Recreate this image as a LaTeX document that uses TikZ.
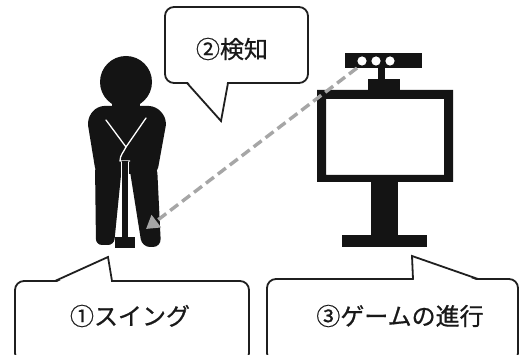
\documentclass[tikz,border=0pt]{standalone}
\usepackage{fontspec}
\newfontfamily\jpfont{Noto Sans CJK JP}[FakeBold=0.7]
\usetikzlibrary{arrows.meta}

\begin{document}
\begin{tikzpicture}[x=1pt,y=-1pt,
  bubble/.style={draw=black!88, line width=1.8pt, fill=white, rounded corners=9pt},
  tailline/.style={draw=black!88, line width=1.8pt, line join=miter},
  tagtext/.style={font=\jpfont\fontsize{24}{28}\selectfont, inner sep=0pt, text=black!90},
  ink/.style={fill=black!92},
  beam/.style={draw=black!35, line width=3.4pt, dash pattern=on 10pt off 5pt,
    -{Triangle[length=13pt,width=15pt,fill=black!35]}}
]
\useasboundingbox (0,0) rectangle (520,355);
\fill[white] (0,0) rectangle (520,355);

% ---- speech bubble: detection ----
\draw[bubble] (165,7) rectangle (308,83);
\fill[white] (188,82) -- (221,121) -- (227,82) -- cycle;
\draw[tailline] (187,83) -- (221,121) -- (228,83);
\node[tagtext] (detect) at (232,49) {②検知};

% ---- bubble: swing ----
\draw[bubble] (15,281) rectangle (249,362);
\fill[white] (57,282) -- (108,257) -- (111,282) -- cycle;
\draw[tailline] (55,281) -- (108,257) -- (112,281);
\node[tagtext] (swing) at (130,316) {①スイング};

% ---- bubble: game progress ----
\draw[bubble] (267,279) rectangle (518,362);
\fill[white] (414,280) -- (412,256) -- (476,280) -- cycle;
\draw[tailline] (413,279) -- (412,256) -- (478,279);
\node[tagtext] (game) at (400,316) {③ゲームの進行};

% ---- player with club ----
\fill[ink] (126,82) ellipse [x radius=26pt, y radius=26pt];
\fill[ink] (112,98) rectangle (140,112);
\fill[ink, rounded corners=7pt] (87,119) -- (97,106) -- (156,106) -- (167,119)
  -- (157,174) -- (96,174) -- cycle;
\fill[ink, rounded corners=6pt] (95,165) -- (122,165) -- (114,245) -- (96,245) -- cycle;
\fill[ink, rounded corners=8pt] (129,165) -- (157,165) -- (161,247) -- (142,247) -- cycle;
% arms and hands
\draw[white, line width=1.3pt, line cap=round, line join=round]
  (106,120) -- (126,147) -- (146,118);
\draw[white, line width=1.3pt, line join=round]
  (126,147) to[out=-115,in=90] (120,161) -- (130,161);
% club shaft and head
\draw[white, line width=8.6pt] (125,162) -- (125,237);
\draw[black!92, line width=6pt] (125,161) -- (125,238);
\fill[ink] (115,237) rectangle (135,248);

% ---- display with motion sensor ----
\fill[ink] (345,53) rectangle (422,68);
\foreach \cx in {362,376,390} \fill[white] (\cx,61) circle (4.6pt);
\fill[ink] (378,67) rectangle (385,80);
\fill[ink] (368,79) rectangle (400,92);
\fill[ink, even odd rule] (317,90) rectangle (453,182) (326,99) rectangle (444,175);
\fill[ink] (371,181) rectangle (398,237);
\fill[ink] (342,235) rectangle (427,247);

% ---- sensing beam ----
\coordinate (sensor) at (357,68);
\coordinate (club) at (146,229);
\draw[beam] (sensor) -- (club);
\end{tikzpicture}
\end{document}
